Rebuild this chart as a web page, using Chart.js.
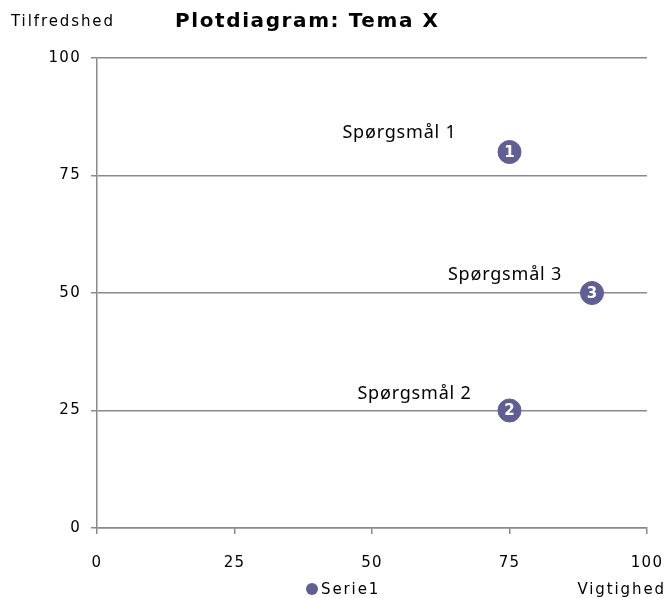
<!DOCTYPE html>
<html><head><meta charset="utf-8">
<script src="https://cdn.jsdelivr.net/npm/chart.js@4/dist/chart.umd.min.js"></script>
<style>html,body{margin:0;padding:0;background:#fff}#wrap{width:667px;height:598px}</style>
</head><body><div id="wrap"><canvas id="c" width="667" height="598"></canvas></div>
<script>
const seriesName = "Serie1";
const importance = [75, 75, 90];
const satisfaction = [80, 25, 50];
const pointNumbers = ["1", "2", "3"];
const pointLabels = ["Spørgsmål 1", "Spørgsmål 2", "Spørgsmål 3"];
const xTicks = [0, 25, 50, 75, 100];
const yTicks = [0, 25, 50, 75, 100];
const titleText = "Plotdiagram: Tema X";
const yTitle = "Tilfredshed";
const xTitle = "Vigtighed";

const markerColor = "#5f5f96";
const gridColor = "#8a8a8a";
const labelOffsets = [[-110, -19], [-95, -17], [-87, -18]];

const points = importance.map((x, i) => ({x: x, y: satisfaction[i]}));

const spacing = {
  id: "spacing",
  beforeDraw(chart) { chart.ctx.letterSpacing = "1.3px"; },
  afterDraw(chart) { chart.ctx.letterSpacing = "0px"; }
};

const overlay = {
  id: "overlay",
  afterDatasetsDraw(chart) {
    const ctx = chart.ctx;
    const meta = chart.getDatasetMeta(0);
    const ds = chart.data.datasets[0];
    ctx.save();
    meta.data.forEach((el, i) => {
      ctx.letterSpacing = "0px";
      ctx.fillStyle = "#fff";
      ctx.font = "bold 15px 'DejaVu Sans'";
      ctx.textAlign = "center";
      ctx.textBaseline = "middle";
      ctx.fillText(pointNumbers[i], el.x, el.y + 1);
      ctx.fillStyle = "#000";
      ctx.font = "18px 'Noto Sans'";
      ctx.letterSpacing = "0.8px";
      ctx.fillText(pointLabels[i], el.x + labelOffsets[i][0], el.y + labelOffsets[i][1]);
    });
    ctx.fillStyle = "#000";
    ctx.textBaseline = "middle";
    ctx.textAlign = "left";
    ctx.letterSpacing = "1.6px";
    ctx.font = "bold 20px 'DejaVu Sans'";
    ctx.fillText(titleText, 175, 22);
    ctx.font = "15px 'DejaVu Sans'";
    ctx.letterSpacing = "1.9px";
    ctx.fillText(yTitle, 11, 22);
    ctx.textAlign = "right";
    ctx.fillText(xTitle, 666, 590);
    // legend
    ctx.textAlign = "left";
    ctx.fillStyle = ds.backgroundColor;
    ctx.beginPath();
    ctx.arc(312, 589, 6, 0, Math.PI * 2);
    ctx.fill();
    ctx.fillStyle = "#000";
    ctx.fillText(ds.label, 321, 590);
    ctx.restore();
  }
};

new Chart(document.getElementById("c"), {
  type: "scatter",
  data: {
    datasets: [{
      label: seriesName,
      data: points,
      backgroundColor: markerColor,
      borderColor: markerColor,
      pointRadius: 11.5,
      pointHoverRadius: 11.5,
      pointStyle: "circle"
    }]
  },
  options: {
    responsive: false,
    animation: false,
    events: [],
    layout: {padding: {top: 58, right: 20, left: 0, bottom: 0}},
    plugins: {
      legend: {display: false},
      tooltip: {enabled: false},
      title: {display: false}
    },
    scales: {
      x: {
        type: "linear",
        min: 0, max: 100,
        afterBuildTicks(s) { s.ticks = xTicks.map(v => ({value: v})); },
        afterFit(s) { s.height = 70; s.paddingLeft = 0; s.paddingRight = 0; },
        grid: {drawOnChartArea: false, drawTicks: true, tickLength: 6, color: gridColor, lineWidth: 1.5},
        border: {color: gridColor, width: 1.5},
        ticks: {color: "#000", padding: 20, font: {family: "'DejaVu Sans'", size: 15}, maxRotation: 0}
      },
      y: {
        type: "linear",
        min: 0, max: 100,
        afterBuildTicks(s) { s.ticks = yTicks.map(v => ({value: v})); },
        afterFit(s) { s.width = 97; s.paddingTop = 0; s.paddingBottom = 0; },
        grid: {drawOnChartArea: true, drawTicks: true, tickLength: 6, color: gridColor, lineWidth: 1.5},
        border: {color: gridColor, width: 1.5},
        ticks: {color: "#000", padding: 10, font: {family: "'DejaVu Sans'", size: 15}}
      }
    }
  },
  plugins: [spacing, overlay]
});
</script>
</body></html>
